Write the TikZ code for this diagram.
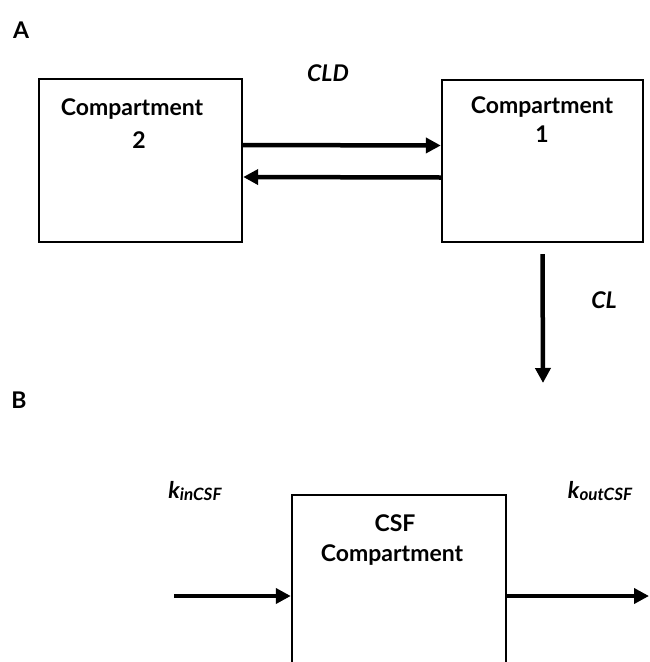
\documentclass[tikz,border=0pt]{standalone}
\usepackage{fontspec}
\setmainfont{Lato}
\usetikzlibrary{arrows.meta,positioning}
\newcommand{\ksub}[1]{\textit{k}\raisebox{-1.5pt}{\fontsize{17}{20}\selectfont #1}}
\tikzset{
	comp/.style={draw,line width=2.4pt,inner sep=0pt,text width=0pt},
	lbl/.style={font=\fontsize{23}{26}\selectfont\bfseries,inner sep=0pt},
	rate/.style={font=\fontsize{23}{26}\selectfont\bfseries\itshape,inner sep=0pt},
	flow/.style={line width=4.5pt,-{Triangle[width=15pt,length=15pt]}}
}
\begin{document}
\begin{tikzpicture}[x=1pt,y=-1pt]
	\useasboundingbox (0,0) rectangle (649,662);
	% panel A
	\node[lbl] (panA) at (21,30) {A};
	\node[comp,minimum width=203pt,minimum height=163pt] (comp2) at (140.5,160.5) {};
	\node[comp,minimum width=201pt,minimum height=162pt] (comp1) at (542.5,161) {};
	\node[lbl] (comp2name) at (132,109) {Compartment};
	\node[lbl] (comp2num) at (139,140) {2};
	\node[lbl] (comp1name) at (542,107) {Compartment};
	\node[lbl] (comp1num) at (542,134) {1};
	\draw[flow] ([yshift=15.5pt]comp2.east) -- ([yshift=15.5pt]comp1.west);
	\draw[flow] ([yshift=-16.5pt]comp1.west) -- ([yshift=-16.5pt]comp2.east);
	\node[rate] (cld) at (328,73.5) {CLD};
	\coordinate (clend) at (543,383);
	\draw[flow] ([yshift=-11pt]comp1.south) -- (clend);
	\node[rate] (cl) at (604,300) {CL};
	% panel B
	\node[lbl] (panB) at (19,400) {B};
	\node[comp,minimum width=214pt,minimum height=172pt] (csf) at (399,581) {};
	\node[lbl] (csfname) at (395,523) {CSF};
	\node[lbl] (csfcomp) at (392,555) {Compartment};
	\coordinate (kin) at (174,596);
	\coordinate (kout) at (649,596);
	\draw[flow] (kin) -- (kin -| csf.west);
	\draw[flow] (kout -| csf.east) -- (kout);
	\node[rate] (kinlbl) at (195,491) {\ksub{inCSF}};
	\node[rate] (koutlbl) at (600,491) {\ksub{outCSF}};
\end{tikzpicture}
\end{document}
